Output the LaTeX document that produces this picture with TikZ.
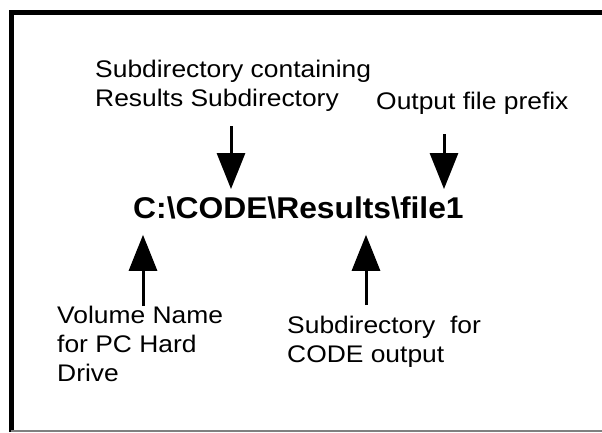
\documentclass[tikz,border=0pt]{standalone}
\usepackage{fontspec}
\setmainfont{Liberation Sans}
\usetikzlibrary{arrows.meta}

\begin{document}
\begin{tikzpicture}[x=1pt,y=1pt,
                    ptr/.style={-{Triangle[width=28pt,length=36pt]},line width=3pt},
                    lbl/.style={font=\fontsize{24}{29}\selectfont,xscale=1.1,
                                align=left,inner sep=0pt,anchor=north west},
                    pathname/.style={font=\bfseries\fontsize{30}{36}\selectfont,
                                     xscale=1.06,inner sep=0pt,anchor=base west}]
  \useasboundingbox (0,0) rectangle (602,432);

  % frame, open on the right
  \draw[line width=5pt] (11,0) -- (11,419.5) -- (602,419.5);
  \draw[gray,line width=1.5pt] (11,1) -- (602,1);

  \node[pathname] (path) at (133,214) {C:\textbackslash CODE\textbackslash Results\textbackslash file1};

  \node[lbl] (sub)    at (95,372.5)  {Subdirectory containing\\Results Subdirectory};
  \node[lbl] (prefix) at (376,340.5) {Output file prefix};
  \node[lbl] (vol)    at (57,126.5)  {Volume Name\\for PC Hard\\Drive};
  \node[lbl] (out)    at (287,116.5) {Subdirectory~~for\\CODE output};

  \coordinate (t1) at (231,306);
  \coordinate (t2) at (444,298);
  \coordinate (t3) at (143,126);
  \coordinate (t4) at (366,127);

  \draw[ptr,shorten >=7pt]  (t1) -- (t1 |- path.north);
  \draw[ptr,shorten >=7pt]  (t2) -- (t2 |- path.north);
  \draw[ptr,shorten >=16pt] (t3) -- (t3 |- path.south);
  \draw[ptr,shorten >=16pt] (t4) -- (t4 |- path.south);
\end{tikzpicture}
\end{document}
